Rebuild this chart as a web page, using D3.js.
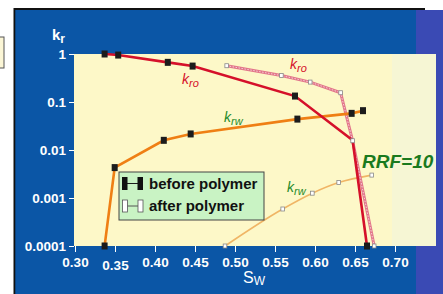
<!DOCTYPE html>
<html><head><meta charset="utf-8">
<script src="https://cdn.jsdelivr.net/npm/d3@7"></script>
<style>html,body{margin:0;padding:0;background:#fff;overflow:hidden}text{font-family:"Liberation Sans",Arial,sans-serif}</style>
</head><body>
<svg id="c" width="443" height="294"></svg>
<script>
// ---- data ----
const xTicks = [0.30,0.35,0.40,0.45,0.50,0.55,0.60,0.65,0.70];
const yTicks = [1,0.1,0.01,0.001,0.0001];
const yTickLabels = ["1","0.1","0.01","0.001","0.0001"];
const kroBeforeSw = [0.337,0.354,0.416,0.447,0.575,0.647,0.665];
const kroBeforeK  = [1.0,0.95,0.67,0.56,0.133,0.016,0.0001];
const kroBeforeMarked = [1,1,1,1,1,0,1];
const krwBeforeSw = [0.337,0.3496,0.411,0.4446,0.578,0.6458,0.660];
const krwBeforeK  = [0.0001,0.0043,0.0159,0.0216,0.044,0.058,0.066];
const kroAfterSw  = [0.4896,0.558,0.594,0.632,0.647,0.674];
const kroAfterK   = [0.57,0.355,0.26,0.156,0.0156,0.0001];
const krwAfterSw  = [0.4875,0.5596,0.5967,0.6296,0.6709];
const krwAfterK   = [0.0001,0.00059,0.00126,0.0021,0.0030];
const legendLabels = ["before polymer","after polymer"];

const svg = d3.select("#c");
// frame / background
svg.append("rect").attr("x",15).attr("y",10).attr("width",401).attr("height",284).attr("fill","#0b56a6");
svg.append("rect").attr("x",416).attr("y",10).attr("width",27).attr("height",284).attr("fill","#3a4ab4");
svg.append("rect").attr("x",14).attr("y",8).attr("width",411).attr("height",2).attr("fill","#111");
svg.append("rect").attr("x",13.5).attr("y",8).attr("width",1.8).attr("height",286).attr("fill","#111");
svg.append("rect").attr("x",-5).attr("y",37).attr("width",9).attr("height",31).attr("fill","#fbf6d6").attr("stroke","#555").attr("stroke-width",1);

const x = d3.scaleLinear().domain([0.30,0.70]).range([75,395]);
const y = d3.scaleLog().domain([0.0001,1]).range([246,54]);

// plot area
svg.append("rect").attr("x",74).attr("y",54).attr("width",362).attr("height",192).attr("fill","#fdf8c8");
svg.append("rect").attr("x",392).attr("y",54).attr("width",44).attr("height",192).attr("fill","#f6f6d4");

// axes
const gx = svg.append("g").attr("transform","translate(0,246)")
  .call(d3.axisBottom(x).tickValues(xTicks).tickFormat(d3.format(".2f")).tickSize(6).tickPadding(4));
gx.select(".domain").remove();
gx.selectAll("line").attr("stroke","#fff").attr("stroke-width",1);
gx.selectAll("text").attr("fill","#fff").attr("font-size","13.5px").attr("font-weight","bold")
  .attr("dy", (d,i)=> i===1 ? "1.05em" : "0.8em");

const gy = svg.append("g").attr("transform","translate(74,0)")
  .call(d3.axisLeft(y).tickValues(yTicks).tickFormat((d,i)=>yTickLabels[i]).tickSize(5).tickPadding(3));
gy.select(".domain").remove();
gy.selectAll("line").attr("stroke","#fff").attr("stroke-width",1);
gy.selectAll("text").attr("fill","#fff").attr("font-size","13.5px").attr("font-weight","bold");

// axis titles
const kt = svg.append("text").attr("x",52).attr("y",40).attr("fill","#fff").attr("font-weight","bold").attr("font-size","15px");
kt.append("tspan").text("k");
kt.append("tspan").attr("font-size","12px").attr("dy","3").text("r");
const st = svg.append("text").attr("x",243).attr("y",283).attr("fill","#fff").attr("font-size","16px");
st.append("tspan").text("S");
st.append("tspan").attr("font-size","12px").attr("dy","2").text("W");

const line = d3.line().x(d=>x(d[0])).y(d=>y(d[1]));
const zip = (a,b)=>a.map((v,i)=>[v,b[i]]);

const krwB = zip(krwBeforeSw,krwBeforeK);
const kroB = zip(kroBeforeSw,kroBeforeK);
const kroA = zip(kroAfterSw,kroAfterK);
const krwA = zip(krwAfterSw,krwAfterK);

// after krw
svg.append("path").attr("d",line.curve(d3.curveMonotoneX)(krwA)).attr("fill","none").attr("stroke","#f0b565").attr("stroke-width",1.6);
line.curve(d3.curveLinear);
// after kro hatched
svg.append("path").attr("d",line(kroA)).attr("fill","none").attr("stroke","#e2768a").attr("stroke-width",3);
svg.append("path").attr("d",line(kroA)).attr("fill","none").attr("stroke","#f6d0d4").attr("stroke-width",1).attr("stroke-dasharray","1.5,1.5");
// before
svg.append("path").attr("d",line(krwB)).attr("fill","none").attr("stroke","#ef7f14").attr("stroke-width",2.6);
svg.append("path").attr("d",line(kroB)).attr("fill","none").attr("stroke","#d5102a").attr("stroke-width",2.6);

// markers
function filled(pts){
  svg.append("g").selectAll("rect").data(pts).join("rect")
    .attr("x",d=>x(d[0])-3).attr("y",d=>y(d[1])-3.5).attr("width",6).attr("height",7).attr("fill","#1c1c1c");
}
function open(pts){
  svg.append("g").selectAll("rect").data(pts).join("rect")
    .attr("x",d=>x(d[0])-1.8).attr("y",d=>y(d[1])-2).attr("width",3.6).attr("height",4)
    .attr("fill","#fff").attr("stroke","#888").attr("stroke-width",0.8);
}
open(krwA); open(kroA);
filled(krwB); filled(kroB.filter((d,i)=>kroBeforeMarked[i]));

// labels
function klabel(px,py,sub,color){
  const t = svg.append("text").attr("x",px).attr("y",py).attr("fill",color).attr("font-style","italic").attr("font-size","14px");
  t.append("tspan").text("k");
  t.append("tspan").attr("font-size","11px").attr("dy","3").text(sub);
}
klabel(182,84,"ro","#d5102a");
klabel(290,69,"ro","#d5102a");
klabel(224,122,"rw","#1f8a2a");
klabel(287,192,"rw","#1f8a2a");
svg.append("text").attr("x",362).attr("y",168).attr("fill","#1a7a1e").attr("font-weight","bold").attr("font-style","italic").attr("font-size","19px").text("RRF=10");

// legend
const lg = svg.append("g");
lg.append("rect").attr("x",119).attr("y",172).attr("width",145).attr("height",48).attr("fill","#c9f3c4").attr("stroke","#444").attr("stroke-width",1);
// before symbol
lg.append("line").attr("x1",125).attr("x2",140).attr("y1",183.5).attr("y2",183.5).attr("stroke","#1c1c1c").attr("stroke-width",1);
lg.append("rect").attr("x",122).attr("y",177).attr("width",5.5).attr("height",13).attr("fill","#111");
lg.append("rect").attr("x",137.5).attr("y",177).attr("width",5.5).attr("height",13).attr("fill","#111");
// after symbol
lg.append("line").attr("x1",126).attr("x2",139).attr("y1",206).attr("y2",206).attr("stroke","#555").attr("stroke-width",1);
lg.append("rect").attr("x",122.5).attr("y",200).attr("width",5).attr("height",12).attr("fill","#fff").attr("stroke","#555").attr("stroke-width",0.8);
lg.append("rect").attr("x",138).attr("y",200).attr("width",5).attr("height",12).attr("fill","#fff").attr("stroke","#555").attr("stroke-width",0.8);
lg.selectAll("text.l").data(legendLabels).join("text").attr("class","l")
  .attr("x",149).attr("y",(d,i)=>189+i*22).attr("fill","#111").attr("font-weight","bold").attr("font-size","15px").text(d=>d);
</script>
</body></html>
